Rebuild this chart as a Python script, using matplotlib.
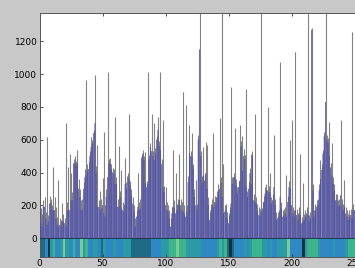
import numpy as np
import matplotlib
matplotlib.use("Agg")
import matplotlib.pyplot as plt
from matplotlib.colors import ListedColormap

# bar heights, one per position 1..252
blue = [100, 70, 190, 190, 120, 80, 100, 210, 210, 170,
        170, 170, 120, 80, 70, 80, 70, 100, 100, 90,
        70, 170, 170, 170, 230, 230, 455, 455, 440, 455,
        300, 250, 170, 170, 300, 370, 380, 410, 420, 500,
        555, 575, 640, 700, 400, 190, 190, 170, 180, 200,
        150, 130, 250, 370, 455, 455, 420, 400, 390, 330,
        330, 190, 190, 250, 180, 170, 160, 330, 300, 375,
        360, 320, 260, 210, 160, 70, 130, 190, 170, 180,
        490, 515, 475, 335, 310, 330, 480, 555, 530, 500,
        475, 520, 600, 660, 560, 535, 450, 310, 280, 200,
        170, 160, 120, 70, 150, 190, 180, 150, 170, 200,
        230, 200, 170, 160, 150, 130, 160, 340, 515, 500,
        495, 420, 250, 200, 170, 600, 1150, 500, 335, 380,
        350, 395, 300, 200, 110, 170, 200, 190, 220, 210,
        250, 290, 300, 335, 250, 150, 160, 170, 120, 90,
        150, 210, 330, 370, 370, 320, 270, 310, 350, 560,
        410, 500, 480, 310, 250, 300, 395, 330, 500, 230,
        220, 210, 170, 140, 135, 160, 180, 220, 270, 290,
        290, 280, 270, 210, 230, 310, 200, 110, 120, 130,
        250, 180, 130, 140, 150, 130, 220, 310, 300, 200,
        150, 130, 170, 140, 110, 150, 140, 90, 100, 110,
        130, 150, 140, 100, 120, 1270, 290, 130, 170, 190,
        200, 290, 360, 415, 515, 620, 830, 600, 580, 500,
        430, 380, 330, 290, 230, 230, 190, 200, 260, 200,
        170, 190, 150, 130, 110, 130, 140, 120, 170, 170,
        150, 120]

gray = [183, 150, 230, 250, 160, 618, 140, 260, 240, 200,
        435, 252, 190, 130, 354, 120, 110, 213, 150, 120,
        700, 220, 435, 515, 395, 280, 480, 500, 470, 540,
        360, 300, 230, 240, 340, 420, 963, 450, 470, 530,
        618, 600, 660, 995, 440, 570, 230, 290, 240, 365,
        650, 200, 300, 1015, 480, 490, 450, 430, 420, 740,
        370, 240, 560, 290, 415, 220, 210, 490, 340, 400,
        760, 350, 300, 250, 200, 120, 170, 395, 220, 240,
        510, 540, 500, 525, 350, 1015, 510, 580, 760, 530,
        700, 550, 620, 740, 590, 1015, 480, 720, 320, 310,
        220, 200, 170, 120, 190, 535, 230, 395, 210, 240,
        515, 240, 220, 890, 200, 810, 200, 380, 690, 530,
        640, 450, 300, 355, 210, 630, 1500, 530, 380, 555,
        390, 585, 570, 250, 160, 210, 240, 640, 260, 250,
        290, 330, 730, 370, 1500, 455, 200, 210, 160, 140,
        190, 920, 370, 400, 670, 360, 310, 350, 690, 590,
        620, 545, 510, 910, 290, 340, 430, 515, 530, 270,
        760, 250, 210, 190, 180, 1500, 220, 260, 310, 330,
        800, 320, 395, 250, 270, 630, 240, 160, 160, 170,
        1075, 220, 170, 180, 190, 385, 260, 350, 600, 720,
        190, 170, 1135, 180, 150, 190, 515, 130, 335, 150,
        170, 190, 1500, 140, 160, 1280, 330, 170, 210, 230,
        240, 330, 475, 450, 540, 650, 1500, 630, 610, 710,
        460, 580, 370, 330, 270, 270, 230, 240, 720, 240,
        210, 355, 190, 170, 150, 170, 180, 1260, 210, 210,
        190, 160]

# colour band below zero, one code per 2 x-units from 0 to 260
band = [0, 0, 1, 5, 2, 3, 1, 1, 2, 4,
        2, 2, 1, 3, 1, 1, 4, 2, 3, 1,
        1, 2, 2, 1, 0, 2, 1, 1, 1, 2,
        1, 1, 1, 2, 2, 2, 0, 0, 0, 0,
        0, 0, 0, 0, 1, 1, 1, 1, 2, 2,
        2, 3, 3, 3, 4, 3, 3, 3, 2, 2,
        2, 2, 2, 2, 1, 1, 1, 1, 1, 1,
        2, 3, 2, 3, 0, 5, 0, 1, 1, 1,
        1, 2, 1, 2, 3, 3, 3, 3, 2, 2,
        1, 2, 1, 1, 2, 2, 2, 2, 4, 1,
        1, 1, 1, 1, 5, 2, 3, 3, 3, 3,
        2, 1, 1, 1, 1, 1, 2, 1, 1, 1,
        1, 2, 3, 3, 3, 0, 0, 0, 0, 0]
band_colors = ["#1f6a84", "#2e88c4", "#2b9aa6", "#3db48c", "#7ccc8e", "#10323f"]

x = np.arange(1, len(blue) + 1)

fig = plt.figure(figsize=(3.55, 2.68), dpi=100, facecolor="#c8c8c8")
ax = fig.add_axes([39.5 / 355, 11 / 268, 327.6 / 355, 244.3 / 268])

ax.imshow(np.array([band]), cmap=ListedColormap(band_colors), vmin=-0.5, vmax=5.5,
          extent=[0, 260, -115, 0], aspect="auto", interpolation="nearest", zorder=1)
ax.vlines(x, 0, gray, color="#828282", lw=0.8, zorder=2)
ax.bar(x, blue, width=0.5, color="#5a5ad4", edgecolor="#3a3a8e", linewidth=0.15,
       snap=False, zorder=3)
ax.axhline(0, color="#123040", lw=0.6, zorder=4)

ax.set_xlim(0, 260)
ax.set_ylim(-115, 1375)
ax.set_xticks(range(0, 251, 50))
ax.set_yticks(range(0, 1201, 200))
ax.tick_params(direction="in", length=2.5, width=0.6, labelsize=6.5, pad=1.5,
               top=True, right=True, colors="#333333", labelcolor="black")
for s in ax.spines.values():
    s.set_color("#555555")
    s.set_linewidth(0.7)

fig.savefig("out.png", dpi=100, facecolor=fig.get_facecolor())
